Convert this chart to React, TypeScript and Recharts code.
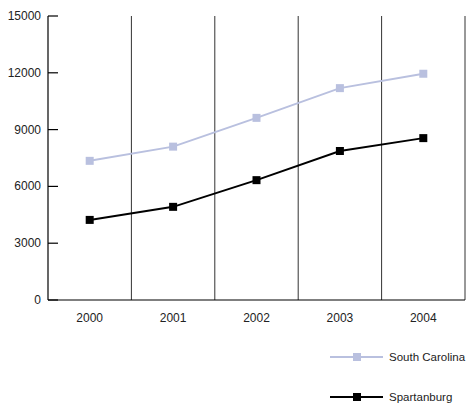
import React from "react";
import { LineChart, Line, XAxis, YAxis, CartesianGrid } from "recharts";

const YEARS = ["2000", "2001", "2002", "2003", "2004"];
const SOUTH_CAROLINA = [7350, 8100, 9620, 11190, 11950];
const SPARTANBURG = [4230, 4920, 6330, 7870, 8550];
const Y_TICKS = [0, 3000, 6000, 9000, 12000, 15000];

const SC_COLOR = "#b9c0df";
const SP_COLOR = "#000000";
const FONT = "'Liberation Sans', Arial, sans-serif";

const data = YEARS.map((year, i) => ({
  year,
  sc: SOUTH_CAROLINA[i],
  sp: SPARTANBURG[i],
}));

const SquareDot = (color: string) => (props: any) => {
  const { cx, cy, index } = props;
  if (cx == null || cy == null) return null;
  return <rect key={index} x={cx - 4} y={cy - 4} width={8} height={8} fill={color} />;
};

// y ticks point inward, into the plot
const YTick = (props: any) => {
  const { x, y, payload } = props;
  return (
    <g>
      <line x1={x + 7} x2={x + 17} y1={y} y2={y} stroke="#000" strokeWidth={1.2} />
      <text x={x} y={y} dy={4} textAnchor="end" fontSize={12} fill="#222" fontFamily={FONT}>
        {payload.value}
      </text>
    </g>
  );
};

const LEGEND_ROWS = [
  { name: "South Carolina", color: SC_COLOR },
  { name: "Spartanburg", color: SP_COLOR },
];

export default function App() {
  return (
    <div style={{ position: "absolute", left: 0, top: 0, width: 468, height: 408, background: "#fff" }}>
      <LineChart width={468} height={408} data={data} margin={{ top: 16, right: 3, left: 0, bottom: 78 }}>
        <CartesianGrid
          horizontal={false}
          stroke="#333"
          strokeWidth={1}
          verticalCoordinatesGenerator={({ offset }: any) =>
            YEARS.map((_, i) => offset.left + ((i + 1) * offset.width) / YEARS.length)
          }
        />
        <XAxis
          dataKey="year"
          scale="band"
          height={30}
          tickLine={false}
          tickSize={0}
          tickMargin={13}
          axisLine={{ stroke: "#000", strokeWidth: 1.2 }}
          tick={{ fontSize: 12, fill: "#222", fontFamily: FONT }}
        />
        <YAxis
          width={48}
          domain={[0, 15000]}
          ticks={Y_TICKS}
          tickLine={false}
          tickSize={0}
          tickMargin={7}
          axisLine={{ stroke: "#000", strokeWidth: 1.2 }}
          tick={<YTick />}
          interval={0}
        />
        <Line
          dataKey="sc"
          name="South Carolina"
          stroke={SC_COLOR}
          strokeWidth={2}
          dot={SquareDot(SC_COLOR)}
          isAnimationActive={false}
        />
        <Line
          dataKey="sp"
          name="Spartanburg"
          stroke={SP_COLOR}
          strokeWidth={2}
          dot={SquareDot(SP_COLOR)}
          isAnimationActive={false}
        />
      </LineChart>

      {/* legend sits below the plot, bottom right */}
      <div style={{ position: "absolute", left: 330, top: 349, display: "flex", flexDirection: "column", gap: 24 }}>
        {LEGEND_ROWS.map((r) => (
          <div key={r.name} style={{ display: "flex", alignItems: "center", height: 16, whiteSpace: "nowrap" }}>
            <svg width={54} height={10}>
              <line x1={0} x2={53} y1={5} y2={5} stroke={r.color} strokeWidth={2} />
              <rect x={23} y={1} width={8} height={8} fill={r.color} />
            </svg>
            <span style={{ marginLeft: 5, fontSize: 11.5, color: "#222", fontFamily: FONT }}>{r.name}</span>
          </div>
        ))}
      </div>
    </div>
  );
}
